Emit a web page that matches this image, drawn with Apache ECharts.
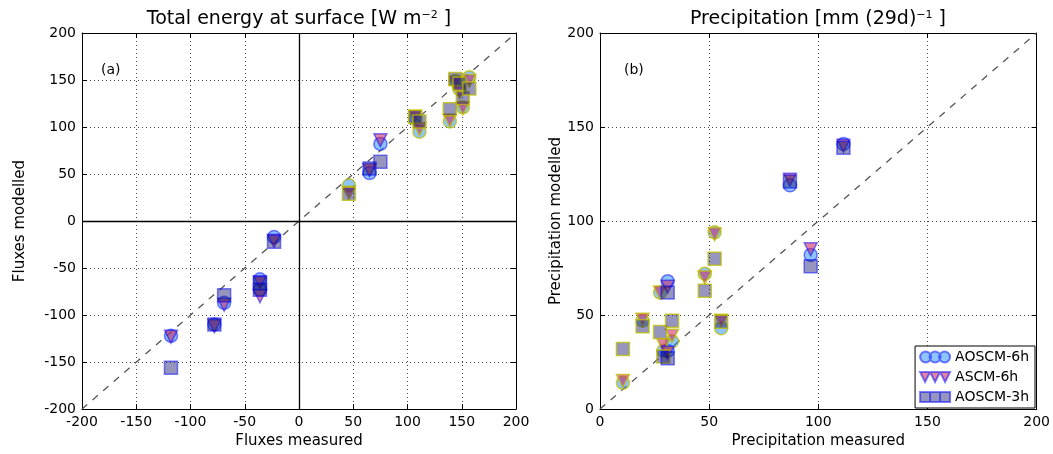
<!DOCTYPE html>
<html>
<head>
<meta charset="utf-8">
<script src="https://cdn.jsdelivr.net/npm/echarts@6/dist/echarts.min.js"></script>
<style>
html,body{margin:0;padding:0;background:#fff;}
#chart{width:1053px;height:454px;}
</style>
</head>
<body>
<div id="chart"></div>
<script>
// ---------- data ----------
const seriesNames = ['AOSCM-6h', 'ASCM-6h', 'AOSCM-3h'];

// Panel (a): total energy at surface [W m-2]
const energyMeasured = [-118, -78, -69, -36, -36, -23, 46, 65, 75, 107, 111, 139, 144, 148, 151, 157];
const energyAOSCM6h  = [-122, -110, -87, -62, -73, -17, 38, 51, 82, 109, 95, 106, 149, 140, 121, 153];
const energyASCM6h   = [-123, -112, -89, -65, -80, -21, 30, 54, 86, 111, 98, 107, 147, 137, 120, 149];
const energyAOSCM3h  = [-156, -110, -79, -66, -73, -22, 29, 56, 63, 111, 106, 119, 151, 146, 131, 141];
const energyGroup    = ['b','b','b','b','b','b','y','b','b','y','y','y','y','y','y','y'];

// Panel (b): precipitation [mm (29d)-1]
const precipMeasured = [10.5, 19.5, 27.5, 29, 31, 31, 33, 48, 52.5, 55.5, 87, 96.5, 111.5];
const precipAOSCM6h  = [14, 47, 62, 31, 68, 31, 36, 72, 94, 43, 119, 82, 141];
const precipASCM6h   = [15, 47.5, 62, 34, 65, 30, 39, 70, 93, 47, 122, 85, 140];
const precipAOSCM3h  = [32, 44, 41, 28, 62, 27, 47, 63, 80, 46.5, 121, 76, 139];
const precipGroup    = ['y','y','y','y','b','b','y','y','y','y','b','b','b'];

const energyRange = [-200, 200];
const precipRange = [0, 200];
const tickStep = 50;

// ---------- styles ----------
const FONT = 'DejaVu Sans';
const faceColors = ['rgba(30,140,255,0.5)', 'rgba(200,30,90,0.55)', 'rgba(20,20,110,0.45)'];
const edgeColors = { b: 'rgba(0,0,255,0.5)', y: 'rgba(190,190,0,0.75)' };
const symbols = ['circle', 'triangle', 'rect'];
const rotations = [0, 180, 0];
const sizes = [13, 13, 13];
const legendIcons = [
  'path://M0,5.5a5.5,5.5 0 1,0 11,0a5.5,5.5 0 1,0 -11,0M9.5,5.5a5.5,5.5 0 1,0 11,0a5.5,5.5 0 1,0 -11,0M19,5.5a5.5,5.5 0 1,0 11,0a5.5,5.5 0 1,0 -11,0',
  'path://M0,0L10,0L5,10ZM10,0L20,0L15,10ZM20,0L30,0L25,10Z',
  'path://M0,0h10v10h-10zM10,0h10v10h-10zM20,0h10v10h-10z'
];

function mkAxis(gridIndex, range, opts) {
  const base = {
    type: 'value', gridIndex, min: range[0], max: range[1], interval: tickStep,
    axisLine: { show: true, onZero: false, lineStyle: { color: '#000', width: 1 } },
    axisTick: { show: true, inside: true, length: 5, lineStyle: { color: '#000' } },
    axisLabel: { show: true, color: '#000', fontSize: 14, fontFamily: FONT, margin: 6 },
    splitLine: { show: false }
  };
  return Object.assign(base, opts || {});
}
const gridLine = { show: true, lineStyle: { color: '#444', width: 1, type: [1, 3] } };
const nameStyle = { color: '#000', fontSize: 15, fontFamily: FONT };

function primaryX(gridIndex, range, name) {
  return mkAxis(gridIndex, range, {
    position: 'bottom', name, nameLocation: 'middle', nameGap: 23,
    nameTextStyle: nameStyle, splitLine: gridLine
  });
}
function primaryY(gridIndex, range, name, gap) {
  return mkAxis(gridIndex, range, {
    position: 'left', name, nameLocation: 'middle', nameGap: gap,
    nameTextStyle: nameStyle, splitLine: gridLine
  });
}
function secondary(gridIndex, range, pos) {
  return mkAxis(gridIndex, range, { position: pos, axisLabel: { show: false } });
}

function buildScatter(measured, modelArrays, groups, xIdx, yIdx) {
  return modelArrays.map((model, k) => ({
    type: 'scatter',
    name: seriesNames[k],
    xAxisIndex: xIdx, yAxisIndex: yIdx,
    symbol: symbols[k], symbolRotate: rotations[k], symbolSize: sizes[k],
    itemStyle: { color: faceColors[k], borderColor: edgeColors.b, borderWidth: 1.5, opacity: 1 },
    z: 3 + k,
    data: measured.map((m, i) => ({
      value: [m, model[i]],
      itemStyle: { borderColor: edgeColors[groups[i]] }
    }))
  }));
}

function oneToOne(range, xIdx, yIdx) {
  return {
    type: 'line', xAxisIndex: xIdx, yAxisIndex: yIdx, symbol: 'none', silent: true,
    lineStyle: { color: '#555', width: 1.3, type: [7, 7] }, z: 2,
    data: [[range[0], range[0]], [range[1], range[1]]]
  };
}

const chart = echarts.init(document.getElementById('chart'), null, { renderer: 'canvas' });

const series = [];
series.push({
  type: 'line', xAxisIndex: 0, yAxisIndex: 0, data: [], silent: true,
  markLine: {
    silent: true, symbol: 'none', label: { show: false },
    lineStyle: { color: '#000', width: 1.3, type: 'solid' },
    data: [{ xAxis: 0 }, { yAxis: 0 }]
  }
});
series.push(oneToOne(energyRange, 0, 0));
series.push(...buildScatter(energyMeasured, [energyAOSCM6h, energyASCM6h, energyAOSCM3h], energyGroup, 0, 0));
series.push(oneToOne(precipRange, 1, 1));
series.push(...buildScatter(precipMeasured, [precipAOSCM6h, precipASCM6h, precipAOSCM3h], precipGroup, 1, 1));

const supStyle = { fontSize: 11, fontFamily: FONT, verticalAlign: 'top', fill: '#000' };

const option = {
  backgroundColor: '#fff',
  animation: false,
  textStyle: { fontFamily: FONT },
  grid: [
    { left: 82, right: 537, top: 33, bottom: 41, containLabel: false },
    { left: 600, right: 16, top: 33, bottom: 41, containLabel: false }
  ],
  xAxis: [
    primaryX(0, energyRange, 'Fluxes measured'),
    primaryX(1, precipRange, 'Precipitation measured'),
    secondary(0, energyRange, 'top'),
    secondary(1, precipRange, 'top')
  ],
  yAxis: [
    primaryY(0, energyRange, 'Fluxes modelled', 54),
    primaryY(1, precipRange, 'Precipitation modelled', 34),
    secondary(0, energyRange, 'right'),
    secondary(1, precipRange, 'right')
  ],
  legend: {
    data: seriesNames.map((n, k) => ({ name: n, icon: legendIcons[k] })),
    orient: 'vertical',
    right: 18, bottom: 46,
    itemWidth: 30, itemHeight: 11, itemGap: 6,
    backgroundColor: '#fff',
    borderColor: '#000', borderWidth: 1, borderRadius: 0,
    padding: [4, 6, 4, 4],
    textStyle: { color: '#000', fontSize: 14, fontFamily: FONT },
    selectedMode: false
  },
  graphic: [
    { type: 'text', x: 299, y: 10, z: 10,
      style: { text: 'Total energy at surface [W m{sup|−2} ]', fill: '#000', font: '19px "DejaVu Sans"', textAlign: 'center',
        rich: { sup: supStyle } } },
    { type: 'text', x: 818, y: 10, z: 10,
      style: { text: 'Precipitation [mm (29d){sup|−1} ]', fill: '#000', font: '19px "DejaVu Sans"', textAlign: 'center',
        rich: { sup: supStyle } } },
    { type: 'text', x: 101, y: 63, z: 10, style: { text: '(a)', fill: '#000', font: '14px "DejaVu Sans"' } },
    { type: 'text', x: 624, y: 63, z: 10, style: { text: '(b)', fill: '#000', font: '14px "DejaVu Sans"' } }
  ],
  series
};
chart.setOption(option);
</script>
</body>
</html>
